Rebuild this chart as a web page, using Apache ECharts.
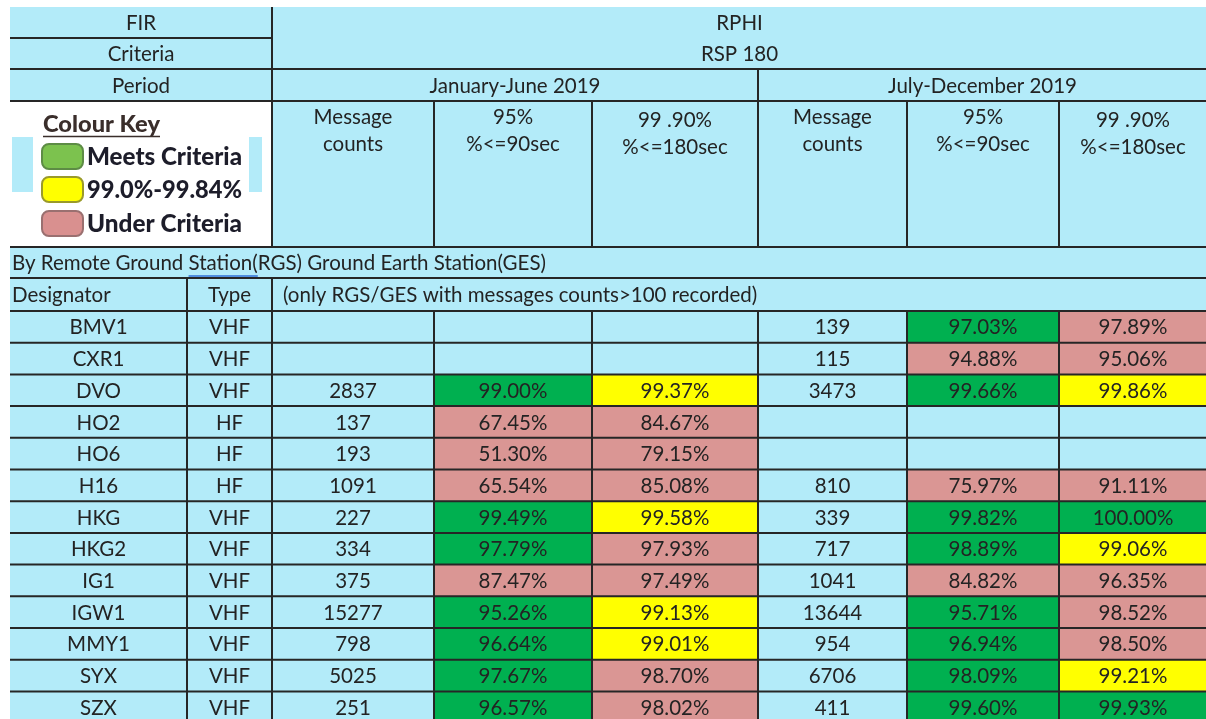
<!DOCTYPE html>
<html>
<head>
<meta charset="utf-8">
<script src="https://cdn.jsdelivr.net/npm/echarts@6.0.0/dist/echarts.min.js"></script>
<style>
html, body { margin: 0; padding: 0; background: #fff; }
#main { width: 1206px; height: 719px; }
</style>
</head>
<body>
<div id="main"></div>
<script>
// ---- sheet content
var headerLeft = ['FIR', 'Criteria', 'Period'];
var firValue = 'RPHI';
var criteriaValue = 'RSP 180';
var periods = ['January-June 2019', 'July-December 2019'];
var metricHeads = ['Message\ncounts', '95%\n%<=90sec', '99 .90%\n%<=180sec'];
var sectionTitle = 'By Remote Ground Station(RGS) Ground Earth Station(GES)';
var colHeads = ['Designator', 'Type', '(only RGS/GES with messages counts>100 recorded)'];
var keyTitle = 'Colour Key';
var keyLabels = ['Meets Criteria', '99.0%-99.84%', 'Under Criteria'];

var designators = ['BMV1', 'CXR1', 'DVO', 'HO2', 'HO6', 'H16', 'HKG', 'HKG2', 'IG1', 'IGW1', 'MMY1', 'SYX', 'SZX'];
var types = ['VHF', 'VHF', 'VHF', 'HF', 'HF', 'HF', 'VHF', 'VHF', 'VHF', 'VHF', 'VHF', 'VHF', 'VHF'];
// January-June 2019
var countsH1 = [null, null, 2837, 137, 193, 1091, 227, 334, 375, 15277, 798, 5025, 251];
var p90H1 = [null, null, 99.00, 67.45, 51.30, 65.54, 99.49, 97.79, 87.47, 95.26, 96.64, 97.67, 96.57];
var p180H1 = [null, null, 99.37, 84.67, 79.15, 85.08, 99.58, 97.93, 97.49, 99.13, 99.01, 98.70, 98.02];
// July-December 2019
var countsH2 = [139, 115, 3473, null, null, 810, 339, 717, 1041, 13644, 954, 6706, 411];
var p90H2 = [97.03, 94.88, 99.66, null, null, 75.97, 99.82, 98.89, 84.82, 95.71, 96.94, 98.09, 99.60];
var p180H2 = [97.89, 95.06, 99.86, null, null, 91.11, 100.00, 99.06, 96.35, 98.52, 98.50, 99.21, 99.93];

var myChart = echarts.init(document.getElementById('main'));

// ---- sheet layout (column widths / row heights in px)
var colW = [177, 85, 162, 158, 166, 149, 152, 148];
var headRowH = [31, 31, 32, 146, 31, 33];
var dataRowH = 31.7;

var xEdge = [0];
colW.forEach(function (w, i) { xEdge.push(xEdge[i] + w); });
var rowH = headRowH.concat(designators.map(function () { return dataRowH; }));
var yEdge = [0];
rowH.forEach(function (h, i) { yEdge.push(yEdge[i] + h); });

// visible part of the sheet (the table runs a little past the window)
var viewW = 1196;
var viewH = 712;

var BLUE = '#b3ebf9';
var GREEN = '#00b050';
var YELLOW = '#ffff00';
var PINK = '#da9694';
var INK = '#232323';
var FONT_FAMILY = 'Lato, "Open Sans", sans-serif';
var FONT_SIZE = 20.5;

function colour90(v) { return v >= 95 ? GREEN : PINK; }
function colour180(v) { return v >= 99.9 ? GREEN : (v >= 99 ? YELLOW : PINK); }
function pct(v) { return v == null ? '' : v.toFixed(2) + '%'; }
function num(v) { return v == null ? '' : String(v); }

var measureCtx = document.createElement('canvas').getContext('2d');
function textWidth(t, font) {
    measureCtx.font = font;
    return measureCtx.measureText(t).width;
}

// build cells
var cells = [];
function addCell(c0, c1, r0, r1, text, opt) {
    var cell = { c0: c0, c1: c1, r0: r0, r1: r1, text: text };
    for (var k in (opt || {})) cell[k] = opt[k];
    cells.push(cell);
}
headerLeft.forEach(function (t, i) { addCell(0, 2, i, i + 1, t); });
addCell(0, 2, 3, 4, '', { legend: true, fill: '#ffffff' });
addCell(2, 8, 0, 2, firValue + '\n' + criteriaValue, { lineHeight: 31 });
addCell(2, 5, 2, 3, periods[0]);
addCell(5, 8, 2, 3, periods[1]);
[0, 1].forEach(function (p) {
    metricHeads.forEach(function (t, k) {
        addCell(2 + p * 3 + k, 3 + p * 3 + k, 3, 4, t, { top: k === 2 ? 19 : 16, lineHeight: 27 });
    });
});
addCell(0, 8, 4, 5, sectionTitle, { align: 'left', section: true });
addCell(0, 1, 5, 6, colHeads[0], { align: 'left' });
addCell(1, 2, 5, 6, colHeads[1]);
addCell(2, 8, 5, 6, colHeads[2], { align: 'left', pad: 11 });
designators.forEach(function (d, i) {
    var r = 6 + i;
    addCell(0, 1, r, r + 1, d);
    addCell(1, 2, r, r + 1, types[i]);
    addCell(2, 3, r, r + 1, num(countsH1[i]));
    addCell(3, 4, r, r + 1, pct(p90H1[i]), { fill: p90H1[i] == null ? BLUE : colour90(p90H1[i]) });
    addCell(4, 5, r, r + 1, pct(p180H1[i]), { fill: p180H1[i] == null ? BLUE : colour180(p180H1[i]) });
    addCell(5, 6, r, r + 1, num(countsH2[i]));
    addCell(6, 7, r, r + 1, pct(p90H2[i]), { fill: p90H2[i] == null ? BLUE : colour90(p90H2[i]) });
    addCell(7, 8, r, r + 1, pct(p180H2[i]), { fill: p180H2[i] == null ? BLUE : colour180(p180H2[i]) });
});

// borders: right and bottom edge of every cell (no outer right edge)
var borders = [];
cells.forEach(function (c) {
    if (c.c1 < colW.length) borders.push([xEdge[c.c1], yEdge[c.r0], xEdge[c.c1], yEdge[c.r1]]);
    borders.push([xEdge[c.c0], yEdge[c.r1], xEdge[c.c1], yEdge[c.r1]]);
});

// squeezed heavy text like the pasted key picture
function keyText(t, x, y, size, targetW, colour) {
    var font = '900 ' + size + 'px ' + FONT_FAMILY;
    var s = targetW / textWidth(t, font);
    return {
        type: 'text',
        x: x, y: y, scaleX: s,
        style: { text: t, x: 0, y: 0, verticalAlign: 'middle', font: font, fill: colour }
    };
}

function legendChildren(x, y) {
    var kids = [];
    kids.push({ type: 'rect', shape: { x: x + 2, y: y + 36, width: 21, height: 55 }, style: { fill: BLUE } });
    kids.push({ type: 'rect', shape: { x: x + 239, y: y + 36, width: 13, height: 55 }, style: { fill: BLUE } });
    kids.push(keyText(keyTitle, x + 33, y + 24, 23, 117, '#3a2e2b'));
    kids.push({
        type: 'line',
        shape: { x1: x + 33, y1: y + 35.5, x2: x + 150, y2: y + 35.5 },
        style: { stroke: '#3a2e2b', lineWidth: 1.5 }
    });
    var swatch = [['#7cc24e', '#5d8c45'], [YELLOW, '#9a9a2a'], ['#d9908f', '#9a7070']];
    var rowsY = [43, 76, 110];
    keyLabels.forEach(function (t, i) {
        kids.push({
            type: 'rect',
            shape: { x: x + 32, y: y + rowsY[i], width: 41, height: 25, r: 7 },
            style: { fill: swatch[i][0], stroke: swatch[i][1], lineWidth: 2 }
        });
        kids.push(keyText(t, x + 77, y + rowsY[i] + 13, 24, 155, '#1d1d2a'));
    });
    return kids;
}

function renderCell(params, api) {
    var c = cells[params.dataIndex];
    var p0 = api.coord([xEdge[c.c0], yEdge[c.r0]]);
    var p1 = api.coord([xEdge[c.c1], yEdge[c.r1]]);
    var w = p1[0] - p0[0], h = p1[1] - p0[1];
    var kids = [{ type: 'rect', shape: { x: p0[0], y: p0[1], width: w, height: h }, style: { fill: c.fill || BLUE } }];
    if (c.legend) {
        kids = kids.concat(legendChildren(p0[0], p0[1]));
    }
    if (c.text) {
        var font = FONT_SIZE + 'px ' + FONT_FAMILY;
        var lh = c.lineHeight || 24;
        var tx = c.align === 'left' ? p0[0] + (c.pad || 2) : p0[0] + w / 2;
        var ty, va;
        if (c.top) {
            ty = p0[1] + c.top - lh / 2;
            va = 'top';
        } else {
            ty = p0[1] + h / 2 + 1;
            va = 'middle';
        }
        kids.push({
            type: 'text',
            style: {
                text: c.text, x: tx, y: ty, align: c.align || 'center', verticalAlign: va,
                font: font, lineHeight: lh, fill: INK
            }
        });
        if (c.section) {
            // blue underline below "Station("
            var pre = textWidth('By Remote Ground ', font);
            var word = textWidth('Station(', font);
            kids.push({
                type: 'line',
                shape: { x1: tx + pre, y1: p1[1] - 2, x2: tx + pre + word, y2: p1[1] - 2 },
                style: { stroke: '#2f6fd6', lineWidth: 1.5 }
            });
        }
    }
    return { type: 'group', children: kids };
}

function renderBorder(params, api) {
    var b = borders[params.dataIndex];
    var a = api.coord([b[0], b[1]]);
    var z = api.coord([b[2], b[3]]);
    return {
        type: 'line',
        shape: { x1: a[0], y1: a[1], x2: z[0], y2: z[1] },
        style: { stroke: '#262626', lineWidth: 2 }
    };
}

option = {
    animation: false,
    grid: { left: 10, top: 7, width: viewW, height: viewH },
    xAxis: { type: 'value', min: 0, max: viewW, show: false },
    yAxis: { type: 'value', min: 0, max: viewH, inverse: true, show: false },
    series: [{
        type: 'custom',
        clip: false,
        silent: true,
        renderItem: renderCell,
        data: cells.map(function (c) { return [xEdge[c.c0], yEdge[c.r0]]; }),
        z: 1
    }, {
        type: 'custom',
        clip: false,
        silent: true,
        renderItem: renderBorder,
        data: borders.map(function (b) { return [b[0], b[1]]; }),
        z: 2
    }]
};
myChart.setOption(option);
</script>
</body>
</html>
